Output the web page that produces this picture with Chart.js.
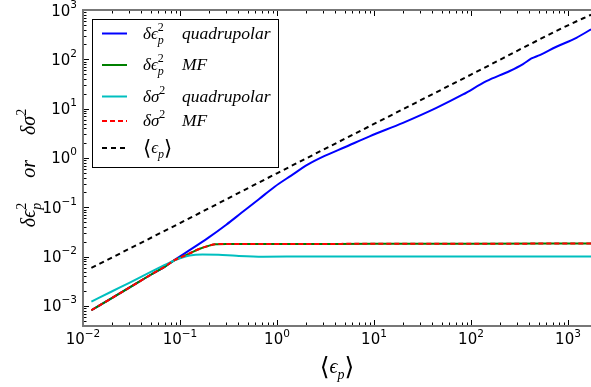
<!DOCTYPE html>
<html>
<head>
<meta charset="utf-8">
<script src="https://cdn.jsdelivr.net/npm/chart.js@4.4.1/dist/chart.umd.min.js"></script>
<style>
  html, body { margin: 0; padding: 0; background: #fff; }
  #wrap { width: 591px; height: 387px; }
</style>
</head>
<body>
<div id="wrap"><canvas id="chart" width="591" height="387"></canvas></div>
<script>
// values (log-log)
const avgX = [0.0122, 0.1, 1, 10, 100, 1000, 1726];
const avgEps = [0.0059, 0.048, 0.49, 4.9, 49, 490, 800];

const quadX = [0.0122, 0.02, 0.03, 0.05, 0.07, 0.088, 0.12, 0.195, 0.3, 0.43, 0.65, 0.946, 1.4, 2.09, 3.1, 4.99,
               9.0, 19.9, 44, 82.7, 144, 251, 344, 420, 511, 759, 1222, 1726];
const quadEps = [8.2e-4, 1.46e-3, 2.35e-3, 4.3e-3, 6.3e-3, 8.6e-3, 0.0128, 0.0241, 0.0445, 0.0774, 0.146, 0.262, 0.44, 0.74, 1.1, 1.65,
                 2.75, 5.17, 10.4, 19.4, 36, 58, 80, 104, 122, 180, 273, 405];

const mfX = [0.0122, 0.02, 0.03, 0.05, 0.07, 0.088, 0.11, 0.13, 0.16, 0.195, 0.23, 0.3, 0.5, 1, 10, 100, 1000, 1726];
const mfEps = [8.2e-4, 1.46e-3, 2.35e-3, 4.3e-3, 6.3e-3, 8.5e-3, 0.0103, 0.0120, 0.0145, 0.0165, 0.0178, 0.0181, 0.0181, 0.0181, 0.0182, 0.0183, 0.0184, 0.0184];
const mfSig = [8.2e-4, 1.46e-3, 2.35e-3, 4.3e-3, 6.3e-3, 8.5e-3, 0.0103, 0.0120, 0.0145, 0.0165, 0.0178, 0.0181, 0.0181, 0.0181, 0.0182, 0.0183, 0.0184, 0.0184];

const sigX = [0.0122, 0.02, 0.03, 0.05, 0.078, 0.1, 0.126, 0.17, 0.25, 0.38, 0.72, 2.17, 10, 100, 1000, 1726];
const quadSig = [1.22e-3, 1.99e-3, 2.95e-3, 4.9e-3, 7.6e-3, 9.3e-3, 0.0106, 0.0111, 0.0109, 0.0104, 0.0100, 0.0101, 0.0101, 0.0101, 0.0101, 0.0101];

const xTickExp = [-2, -1, 0, 1, 2, 3];
const yTickExp = [-3, -2, -1, 0, 1, 2, 3];

const pts = (xs, ys) => xs.map((x, i) => ({ x: x, y: ys[i] }));

const SERIF = '"Liberation Serif", "DejaVu Serif", serif';
const SANS = '"DejaVu Sans", sans-serif';
const it = s => 'italic ' + s + 'px ' + SERIF;

// draws a run of math-ish text along a baseline, returns its width
function mathText(ctx, runs, x, y, draw) {
  let cx = x;
  for (const r of runs) {
    if (r.gap) { cx += r.gap; continue; }
    if (r.sub || r.sup) {
      let w = 0;
      if (r.sub) {
        ctx.font = r.subFont;
        if (draw) ctx.fillText(r.sub, cx, y + r.subDy);
        w = Math.max(w, ctx.measureText(r.sub).width);
      }
      if (r.sup) {
        ctx.font = r.supFont;
        if (draw) ctx.fillText(r.sup, cx, y - r.supDy);
        w = Math.max(w, ctx.measureText(r.sup).width);
      }
      cx += w;
      continue;
    }
    ctx.font = r.f;
    if (draw) ctx.fillText(r.t, cx, y + (r.dy || 0));
    cx += ctx.measureText(r.t).width;
  }
  return cx - x;
}

const legendRows = [
  { color: '#0000ff', dash: [], y: 33.5, sym: 'eps', word: 'quadrupolar' },
  { color: '#008000', dash: [], y: 65, sym: 'eps', word: 'MF' },
  { color: '#00bfbf', dash: [], y: 96.5, sym: 'sig', word: 'quadrupolar' },
  { color: '#ff0000', dash: [5, 3], y: 121, sym: 'sig', word: 'MF' },
  { color: '#000000', dash: [5, 4], y: 148, sym: 'avg', word: '' }
];

function symRuns(sym, s) {
  const small = Math.round(s * 0.7);
  if (sym === 'eps') return [{ t: 'δϵ', f: it(s) },
    { sub: 'p', subFont: it(small), subDy: s * 0.3, sup: '2', supFont: small + 'px ' + SERIF, supDy: s * 0.45 }];
  if (sym === 'sig') return [{ t: 'δσ', f: it(s) },
    { sup: '2', supFont: small + 'px ' + SERIF, supDy: s * 0.45 }];
  return [{ t: '⟨', f: Math.round(s * 1.25) + 'px ' + SANS, dy: s * 0.12 }, { t: 'ϵ', f: it(s) },
    { sub: 'p', subFont: it(small), subDy: s * 0.3 }, { t: '⟩', f: Math.round(s * 1.25) + 'px ' + SANS, dy: s * 0.12 }];
}

const decor = {
  id: 'decor',
  afterDatasetsDraw(chart) {
    const { ctx, chartArea: a, scales } = chart;
    const xs = scales.x, ys = scales.y;
    ctx.save();

    // inward ticks
    ctx.strokeStyle = '#000';
    ctx.lineWidth = 1;
    ctx.beginPath();
    for (let e = -4; e <= 3; e++) {
      for (let m = 1; m <= 9; m++) {
        const v = m * Math.pow(10, e);
        const len = m === 1 ? 6 : 3.5;
        if (v >= xs.min && v <= xs.max) {
          const px = Math.round(xs.getPixelForValue(v)) + 0.5;
          ctx.moveTo(px, a.bottom); ctx.lineTo(px, a.bottom - len);
          ctx.moveTo(px, a.top); ctx.lineTo(px, a.top + len);
        }
        if (v >= ys.min && v <= ys.max) {
          const py = Math.round(ys.getPixelForValue(v)) + 0.5;
          ctx.moveTo(a.left, py); ctx.lineTo(a.left + len, py);
        }
      }
    }
    ctx.stroke();

    // spines
    ctx.strokeStyle = '#777';
    ctx.lineWidth = 2;
    ctx.beginPath();
    ctx.moveTo(a.right, a.top); ctx.lineTo(a.left, a.top);
    ctx.lineTo(a.left, a.bottom); ctx.lineTo(a.right, a.bottom);
    ctx.stroke();

    // tick labels
    ctx.fillStyle = '#000';
    ctx.textBaseline = 'alphabetic';
    ctx.textAlign = 'left';
    const expTxt = e => (e < 0 ? '−' + Math.abs(e) : String(e));
    for (const e of xTickExp) {
      const px = xs.getPixelForValue(Math.pow(10, e));
      ctx.font = '15px ' + SANS;
      const w1 = ctx.measureText('10').width;
      ctx.font = '10.5px ' + SANS;
      const w2 = ctx.measureText(expTxt(e)).width;
      const x0 = px - (w1 + w2) / 2;
      ctx.font = '15px ' + SANS;
      ctx.fillText('10', x0, a.bottom + 18);
      ctx.font = '10.5px ' + SANS;
      ctx.fillText(expTxt(e), x0 + w1, a.bottom + 11);
    }
    for (const e of yTickExp) {
      const py = ys.getPixelForValue(Math.pow(10, e));
      ctx.font = '10.5px ' + SANS;
      const w2 = ctx.measureText(expTxt(e)).width;
      ctx.font = '15px ' + SANS;
      const w1 = ctx.measureText('10').width;
      const x0 = a.left - 6 - w1 - w2;
      ctx.fillText('10', x0, py + 5.5);
      ctx.font = '10.5px ' + SANS;
      ctx.fillText(expTxt(e), x0 + w1, py - 2.5);
    }

    // axis titles
    const xRuns = symRuns('avg', 20);
    const xw = mathText(ctx, xRuns, 0, 0, false);
    mathText(ctx, xRuns, (a.left + a.right) / 2 - xw / 2, 373, true);

    const yRuns = symRuns('eps', 20).concat([{ gap: 25 }, { t: 'or', f: it(20) }, { gap: 25 }], symRuns('sig', 20));
    const yw = mathText(ctx, yRuns, 0, 0, false);
    ctx.save();
    ctx.translate(35, (a.top + a.bottom) / 2);
    ctx.rotate(-Math.PI / 2);
    mathText(ctx, yRuns, -yw / 2, 0, true);
    ctx.restore();

    // legend
    ctx.fillStyle = '#fff';
    ctx.fillRect(92, 19, 187, 149);
    ctx.strokeStyle = '#000';
    ctx.lineWidth = 1;
    ctx.strokeRect(92.5, 19.5, 186, 148);
    for (const row of legendRows) {
      ctx.strokeStyle = row.color;
      ctx.lineWidth = 2;
      ctx.setLineDash(row.dash);
      ctx.beginPath();
      ctx.moveTo(102, row.y); ctx.lineTo(127, row.y);
      ctx.stroke();
      ctx.setLineDash([]);
      ctx.fillStyle = '#000';
      mathText(ctx, symRuns(row.sym, 17), 143, row.y + 5, true);
      if (row.word) {
        ctx.font = it(17.5);
        ctx.fillText(row.word, 182, row.y + 5);
      }
    }
    ctx.restore();
  }
};

const line = (data, color, order, dash) => ({
  data: data,
  borderColor: color,
  backgroundColor: color,
  borderWidth: 2,
  borderDash: dash || [],
  pointRadius: 0,
  fill: false,
  order: order,
  cubicInterpolationMode: 'monotone'
});

new Chart(document.getElementById('chart'), {
  type: 'line',
  data: {
    datasets: [
      line(pts(quadX, quadEps), '#0000ff', 5),
      line(pts(mfX, mfEps), '#008000', 4),
      line(pts(sigX, quadSig), '#00bfbf', 3),
      line(pts(mfX, mfSig), '#ff0000', 2, [5, 3]),
      line(pts(avgX, avgEps), '#000000', 1, [5, 4])
    ]
  },
  options: {
    responsive: false,
    animation: false,
    layout: { padding: { left: 83, top: 10, right: 0, bottom: 61 } },
    scales: {
      x: { type: 'logarithmic', min: 0.01, max: 1726, display: false },
      y: { type: 'logarithmic', min: 3.93e-4, max: 1000, display: false }
    },
    plugins: { legend: { display: false }, tooltip: { enabled: false } }
  },
  plugins: [decor]
});
</script>
</body>
</html>
